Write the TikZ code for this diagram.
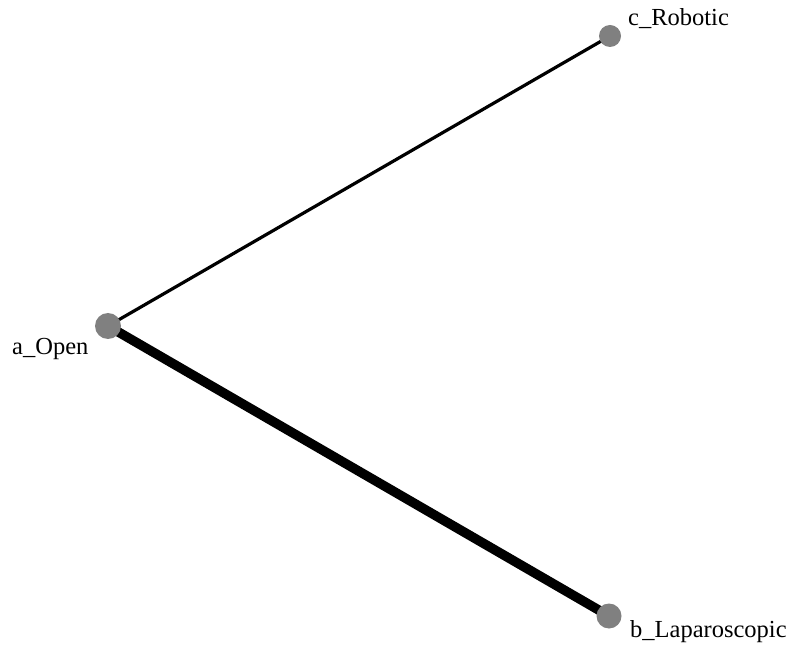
\documentclass[tikz,border=0pt]{standalone}
\usepackage{fontspec}
\setmainfont{Liberation Serif}
\usetikzlibrary{backgrounds}
\definecolor{vgray}{RGB}{128,128,128}

\begin{document}
\begin{tikzpicture}[x=1pt,y=-1pt,
    vertex/.style={circle,fill=vgray,inner sep=0pt,minimum size=#1},
    vlabel/.style={anchor=base west,inner sep=0pt,font=\fontsize{24.5}{29}\selectfont}]
    \useasboundingbox (0,0) rectangle (790,652);

    \node[vertex=26] (open) at (108,326) {};
    \node[vertex=22] (robotic) at (610,36) {};
    \node[vertex=25] (lapa) at (609,616) {};

    \begin{scope}[on background layer]
    \draw[line width=3.2pt] (open.center) -- (robotic.center);
    \draw[line width=9.5pt] (open.center) -- (lapa.center);
    \end{scope}

    \node[vlabel] (openlab) at (12,355) {a\_Open};
    \node[vlabel] (robolab) at (628,26) {c\_Robotic};
    \node[vlabel] (lapalab) at (630,637) {b\_Laparoscopic};
\end{tikzpicture}
\end{document}
